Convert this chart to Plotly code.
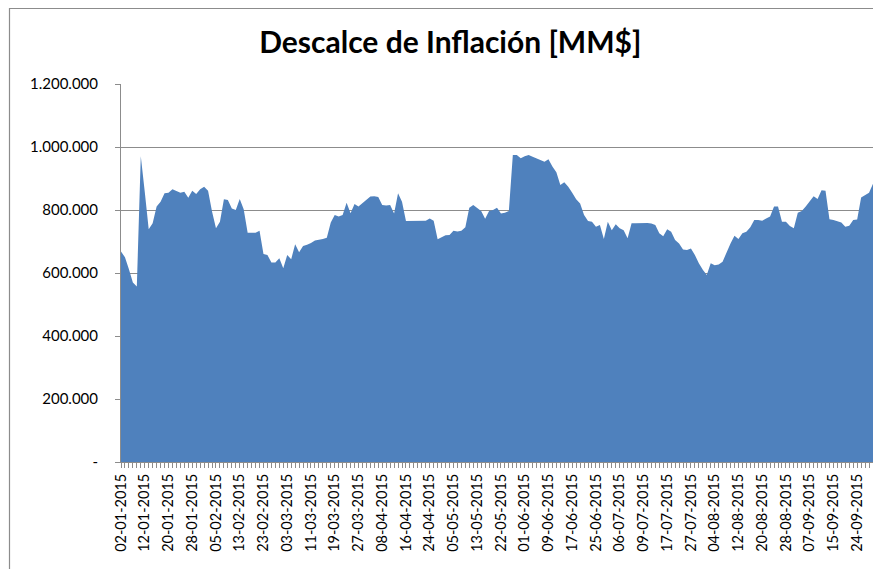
import plotly.graph_objects as go

# =============================================================================
# Data - descalce in thousands of MM$, one value per business day
# =============================================================================
descalce_k = [
    668, 650, 612, 570, 557, 971, 858, 739, 758, 811,
    826, 853, 855, 866, 860, 855, 858, 839, 861, 851,
    866, 874, 861, 795, 742, 763, 834, 832, 805, 800,
    835, 802, 728, 728, 728, 734, 660, 657, 633, 633,
    647, 615, 657, 644, 691, 666, 686, 690, 695, 703,
    705, 708, 712, 760, 784, 779, 784, 823, 790, 819,
    811, 822, 835, 843, 844, 841, 816, 814, 816, 789,
    853, 826, 765, 765, 765, 764, 765, 766, 773, 766,
    707, 713, 720, 721, 734, 732, 734, 745, 807, 816,
    805, 797, 772, 797, 800, 807, 789, 791, 797, 975,
    975, 964, 971, 975, 969, 964, 959, 953, 961, 938,
    920, 879, 888, 874, 855, 834, 821, 784, 765, 763,
    747, 752, 708, 763, 736, 755, 742, 736, 710, 758,
    758, 758, 760, 759, 757, 752, 726, 717, 739, 731,
    705, 694, 675, 673, 678, 657, 631, 610, 594, 631,
    625, 627, 636, 668, 694, 718, 708, 726, 731, 745,
    768, 768, 766, 773, 779, 811, 811, 763, 763, 749,
    742, 791, 797, 811, 826, 844, 835, 863, 861, 771,
    768, 763, 760, 747, 750, 768, 770, 840, 848, 855,
    883,
]

# category labels shown on the x axis (every 6th point)
tick_labels = ['02-01-2015', '12-01-2015', '20-01-2015', '28-01-2015', '05-02-2015',
               '13-02-2015', '23-02-2015', '03-03-2015', '11-03-2015', '19-03-2015',
               '27-03-2015', '08-04-2015', '16-04-2015', '24-04-2015', '05-05-2015',
               '13-05-2015', '22-05-2015', '01-06-2015', '09-06-2015', '17-06-2015',
               '25-06-2015', '06-07-2015', '09-07-2015', '17-07-2015', '27-07-2015',
               '04-08-2015', '12-08-2015', '20-08-2015', '28-08-2015', '07-09-2015',
               '15-09-2015', '24-09-2015']
label_every = 6

y_ticks = [0, 200000, 400000, 600000, 800000, 1000000, 1200000]
y_tick_text = ['-', '200.000', '400.000', '600.000', '800.000', '1.000.000', '1.200.000']

values = [v * 1000 for v in descalce_k]
x = list(range(len(values)))

FONT = 'Lato, Carlito, Calibri, sans-serif'
GRID = '#8c8c8c'

# plot area in figure pixels (page has an 8px body margin)
L, T, W, H = 113, 76, 752, 378

fig = go.Figure()
fig.add_trace(go.Scatter(x=x, y=values, mode='lines',
                         line=dict(width=0, color='#4F81BD'),
                         fill='tozeroy', fillcolor='#4F81BD',
                         showlegend=False))

fig.update_layout(
    width=881, height=569,
    margin=dict(l=L, r=881 - L - W, t=T, b=569 - T - H),
    paper_bgcolor='white', plot_bgcolor='white',
    font=dict(family=FONT, color='black', size=14),
    title=dict(text='<b>Descalce de Inflación [MM$]</b>',
               font=dict(family=FONT, size=30, color='black'),
               x=0.502, xanchor='center', xref='container',
               y=0.94, yanchor='middle', yref='container'),
    shapes=[dict(type='rect', xref='paper', yref='paper',
                 x0=(1.5 - L) / W, x1=(900 - L) / W,
                 y0=(T + H - 600) / H, y1=(T + H - 0.5) / H,
                 line=dict(color='#8c8c8c', width=1.2), layer='below')],
)

fig.update_xaxes(
    range=[0, len(values) - 1],
    tickmode='array',
    tickvals=[i * label_every for i in range(len(tick_labels))],
    ticktext=tick_labels,
    tickangle=-90,
    tickfont=dict(size=14.5),
    ticks='outside', ticklen=5, tickcolor=GRID,
    minor=dict(tickmode='array', tickvals=x, ticks='outside', ticklen=5,
               tickcolor=GRID, showgrid=False),
    showline=True, linecolor=GRID, linewidth=1,
    showgrid=False, zeroline=False,
)

fig.update_yaxes(
    range=[0, 1200000],
    tickmode='array', tickvals=y_ticks, ticktext=y_tick_text,
    tickfont=dict(size=15),
    ticks='outside', ticklen=5, tickcolor=GRID,
    ticklabelstandoff=14,
    showline=True, linecolor=GRID, linewidth=1,
    showgrid=True, gridcolor=GRID, gridwidth=1,
    zeroline=False,
)

fig.write_html("out.html")
